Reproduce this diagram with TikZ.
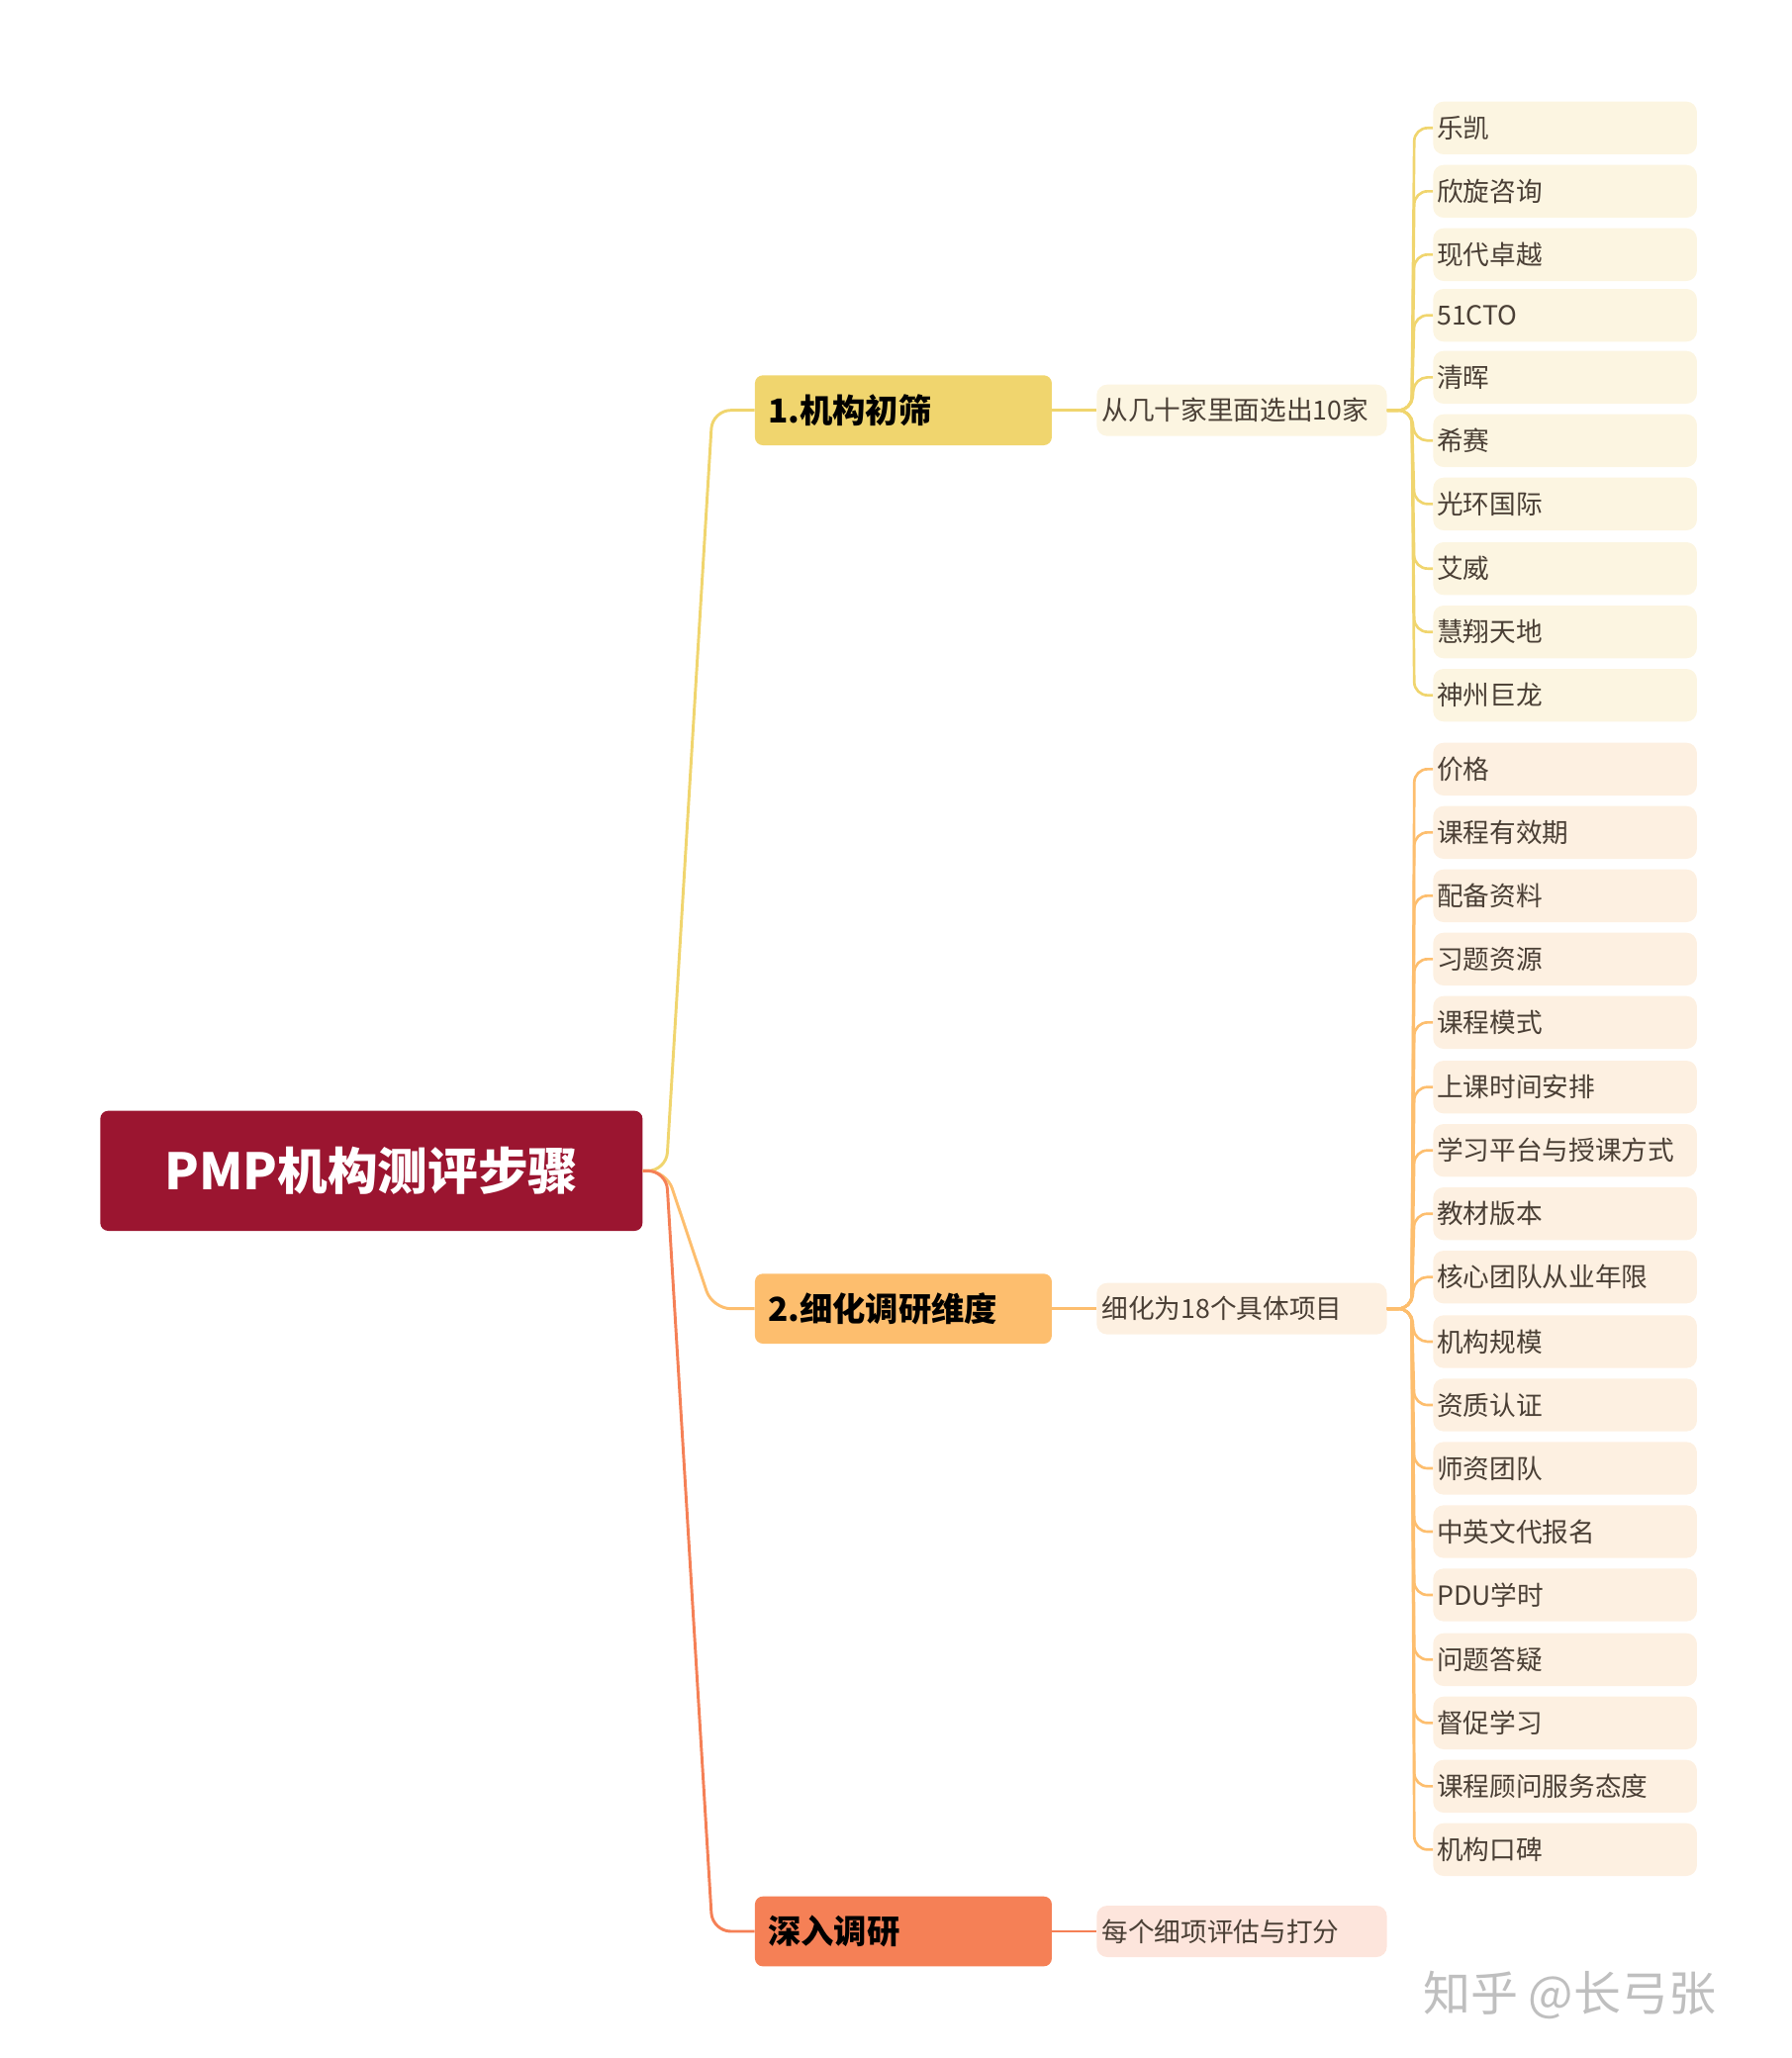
\documentclass[tikz,border=0pt]{standalone}
\usepackage{fontspec}
\setmainfont{Noto Sans CJK SC}
\begin{document}
\begin{tikzpicture}[x=1pt,y=-1pt,
 root/.style={fill=rootc,text=white,rounded corners=6pt,minimum width=411pt,minimum height=91pt,font=\fontsize{38}{40}\selectfont\bfseries,inner sep=0},
 br/.style={rounded corners=6pt,minimum width=225pt,minimum height=53pt,font=\fontsize{25}{28}\selectfont\bfseries,text=black,anchor=west,inner sep=0,text width=205pt,align=left},
 sub/.style={rounded corners=8pt,minimum width=220pt,minimum height=39pt,font=\fontsize{20}{22}\selectfont,text=txt,anchor=west,inner sep=0,text width=212pt,align=left},
 leaf/.style={rounded corners=8pt,minimum width=200pt,minimum height=40pt,font=\fontsize{20}{22}\selectfont,text=txt,anchor=west,inner sep=0,text width=194pt,align=left},
 ln/.style={line width=2.2pt,rounded corners=14pt}]
\definecolor{rootc}{HTML}{9B1530}
\definecolor{c1}{HTML}{F0D56E}
\definecolor{c2}{HTML}{FDBE6E}
\definecolor{c3}{HTML}{F58056}
\definecolor{f1}{HTML}{FCF5E1}
\definecolor{f2}{HTML}{FDF0E1}
\definecolor{f3}{HTML}{FDE5DC}
\definecolor{txt}{HTML}{4A3F35}
\useasboundingbox (0,0) rectangle (1358,1560);
\node[root] (r) at (281.5,887.5) {PMP机构测评步骤};
\node[br,fill=c1] (b1) at (572,311) {1.机构初筛};
\node[br,fill=c2] (b2) at (572,992) {2.细化调研维度};
\node[br,fill=c3] (b3) at (572,1464) {深入调研};
\node[sub,fill=f1] (s1) at (831,311) {从几十家里面选出10家};
\node[sub,fill=f2] (s2) at (831,992) {细化为18个具体项目};
\node[sub,fill=f3] (s3) at (831,1464) {每个细项评估与打分};
\draw[ln,c1] (r.east) -- (505,887.5) -- (540,311) -- (b1.west);
\draw[ln,c2] (r.east) -- (505,887.5) -- (540,992) -- (b2.west);
\draw[ln,c3] (r.east) -- (505,887.5) -- (540,1464) -- (b3.west);
\draw[line width=2.2pt,c1] (b1.east) -- (s1.west);
\draw[line width=2.2pt,c2] (b2.east) -- (s2.west);
\draw[line width=2.2pt,c3] (b3.east) -- (s3.west);
\foreach \y/\t [count=\i] in {97/乐凯,145/欣旋咨询,193/现代卓越,239/51CTO,286/清晖,334/希赛,382/光环国际,431/艾威,479/慧翔天地,527/神州巨龙}{
 \node[leaf,fill=f1] (la\i) at (1086,\y) {\t};
 \draw[line width=2pt,c1,rounded corners=10pt] (s1.east) -- (1070,311) -- (1072,\y) -- (la\i.west);
}
\foreach \y/\t [count=\i] in {583/价格,631/课程有效期,679/配备资料,727/习题资源,775/课程模式,824/上课时间安排,872/学习平台与授课方式,920/教材版本,968/核心团队从业年限,1017/机构规模,1065/资质认证,1113/师资团队,1161/中英文代报名,1209/PDU学时,1258/问题答疑,1306/督促学习,1354/课程顾问服务态度,1402/机构口碑}{
 \node[leaf,fill=f2] (lb\i) at (1086,\y) {\t};
 \draw[line width=2pt,c2,rounded corners=10pt] (s2.east) -- (1070,992) -- (1072,\y) -- (lb\i.west);
}
\node[text=black!25,font=\fontsize{36}{40}\selectfont,anchor=west] (wm) at (1075,1512) {知乎 @长弓张};
\end{tikzpicture}
\end{document}
